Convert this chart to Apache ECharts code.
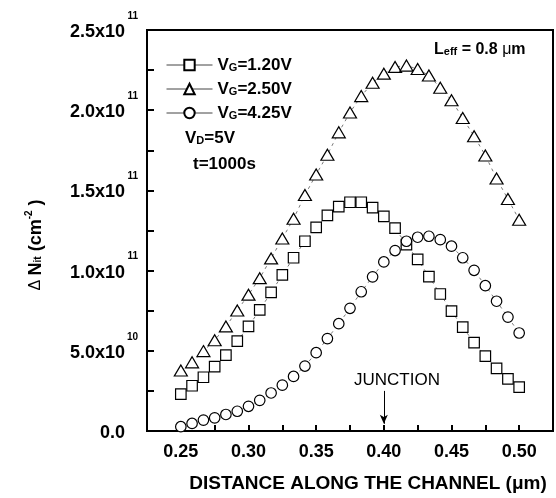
<!DOCTYPE html>
<html>
<head>
<meta charset="utf-8">
<script src="https://cdn.jsdelivr.net/npm/echarts@6/dist/echarts.min.js"></script>
<style>
  html, body { margin: 0; padding: 0; background: #fff; }
  #chart { width: 556px; height: 498px; }
</style>
</head>
<body>
<div id="chart"></div>
<script>
// 沟道位置 (μm)
const distance = [0.2500, 0.2583, 0.2667, 0.2750, 0.2833, 0.2917, 0.3000, 0.3083, 0.3167, 0.3250,
    0.3333, 0.3417, 0.3500, 0.3583, 0.3667, 0.3750, 0.3833, 0.3917, 0.4000, 0.4083,
    0.4167, 0.4250, 0.4333, 0.4417, 0.4500, 0.4583, 0.4667, 0.4750, 0.4833, 0.4917, 0.5000];

// ΔNit，单位 1e10 cm^-2
const vg120 = [2.30, 2.82, 3.35, 4.01, 4.73, 5.60, 6.52, 7.55, 8.64, 9.73,
    10.80, 11.83, 12.70, 13.44, 13.99, 14.26, 14.26, 13.93, 13.38, 12.65,
    11.62, 10.70, 9.63, 8.54, 7.47, 6.48, 5.51, 4.67, 3.91, 3.25, 2.73];
const vg250 = [3.77, 4.28, 4.98, 5.66, 6.52, 7.51, 8.50, 9.53, 10.76, 12.00,
    13.23, 14.71, 15.99, 17.22, 18.62, 19.86, 20.88, 21.71, 22.28, 22.70,
    22.78, 22.57, 22.16, 21.40, 20.62, 19.51, 18.38, 17.18, 15.74, 14.46, 13.17];
const vg425 = [0.27, 0.47, 0.68, 0.82, 1.03, 1.23, 1.54, 1.91, 2.37, 2.86,
    3.40, 4.05, 4.88, 5.76, 6.69, 7.65, 8.68, 9.61, 10.54, 11.25,
    11.83, 12.08, 12.14, 11.93, 11.52, 10.80, 10.02, 9.06, 8.09, 7.10, 6.11];

const seriesNames = ['VG=1.20V', 'VG=2.50V', 'VG=4.25V'];
const junctionX = 0.40;

const FONT = 'Liberation Sans';

const pair = (ys) => ys.map((y, i) => [distance[i], y]);

// y 轴标签: 2.5x10^11 这种写法
const yLabel = (v) => {
    const k = Math.round(v * 10);
    if (k % 50 !== 0) return '';
    if (k === 0) return '{a|0.0}{sp| }';
    if (k < 100) return '{a|' + v.toFixed(1) + 'x10}{sup|10}';
    return '{a|' + (v / 10).toFixed(1) + 'x10}{sup|11}';
};

const buildSeries = (name, ys, symbol, size) => ({
    name: name,
    type: 'line',
    data: pair(ys),
    symbol: symbol,
    symbolSize: size,
    showAllSymbol: true,
    itemStyle: { color: '#fff', borderColor: '#000', borderWidth: 1.2 },
    lineStyle: { color: '#555', width: 0.8, type: [3, 4] },
    emphasis: { disabled: true },
    z: 3
});

const chart = echarts.init(document.getElementById('chart'));

const series = [
    buildSeries(seriesNames[0], vg120, 'rect', 10.5),
    buildSeries(seriesNames[1], vg250, 'triangle', [13, 11]),
    buildSeries(seriesNames[2], vg425, 'circle', 10.5)
];
series[0].markLine = {
    silent: true,
    symbol: ['none', 'arrow'],
    symbolSize: [6, 9],
    label: { show: false },
    lineStyle: { color: '#000', width: 1, type: 'solid' },
    data: [[{ coord: [junctionX, 2.5] }, { coord: [junctionX, 0.45] }]]
};

const option = {
    backgroundColor: '#fff',
    animation: false,
    grid: {
        left: 147, right: 3, top: 30, bottom: 63,
        show: true, borderColor: '#000', borderWidth: 2
    },
    legend: {
        data: seriesNames,
        orient: 'vertical',
        left: 166, top: 56,
        itemWidth: 46, itemHeight: 13, itemGap: 6,
        padding: 0,
        selectedMode: false,
        lineStyle: { type: 'solid', color: '#444', width: 1 },
        formatter: (n) => '{v|V}{g|G}{v|' + n.slice(2) + '}',
        textStyle: {
            color: '#000',
            lineHeight: 18,
            rich: {
                v: { fontFamily: FONT, fontSize: 17, fontWeight: 'bold', color: '#000' },
                g: { fontFamily: FONT, fontSize: 11, fontWeight: 'bold', color: '#000', padding: [5, 0, 0, 0] }
            }
        }
    },
    xAxis: {
        type: 'value',
        min: 0.225, max: 0.525, interval: 0.025,
        name: 'DISTANCE ALONG THE CHANNEL (μm)',
        nameLocation: 'middle',
        nameGap: 43,
        nameTextStyle: {
            fontFamily: FONT, fontSize: 19, fontWeight: 'bold', color: '#000',
            padding: [0, 0, 0, 36]
        },
        axisLine: { lineStyle: { color: '#000', width: 2 } },
        axisTick: { inside: true, length: 6, lineStyle: { color: '#000', width: 2 } },
        axisLabel: {
            margin: 12,
            fontFamily: FONT, fontSize: 18, fontWeight: 'bold', color: '#000',
            formatter: (v) => (Math.round(v * 1000) % 50 === 0 ? v.toFixed(2) : '')
        },
        splitLine: { show: false }
    },
    yAxis: {
        type: 'value',
        min: 0, max: 25, interval: 2.5,
        axisLine: { lineStyle: { color: '#000', width: 2 } },
        axisTick: { inside: true, length: 7, lineStyle: { color: '#000', width: 2 } },
        axisLabel: {
            margin: 9,
            formatter: yLabel,
            rich: {
                a: { fontFamily: FONT, fontSize: 18, fontWeight: 'bold', color: '#000', padding: [4, 0, 0, 0] },
                sup: { fontFamily: FONT, fontSize: 10, fontWeight: 'bold', color: '#000', width: 13, align: 'right', padding: [0, 0, 28, 0] },
                sp: { fontFamily: FONT, fontSize: 10, width: 13 }
            }
        },
        splitLine: { show: false }
    },
    graphic: [
        {
            type: 'text', left: 185, top: 130,
            style: {
                text: '{a|V}{b|D}{a|=5V}',
                rich: {
                    a: { fontFamily: FONT, fontSize: 17, fontWeight: 'bold', fill: '#000' },
                    b: { fontFamily: FONT, fontSize: 11, fontWeight: 'bold', fill: '#000', padding: [5, 0, 0, 0] }
                }
            }
        },
        {
            type: 'text', left: 193, top: 156,
            style: { text: 't=1000s', font: 'bold 17px ' + FONT, fill: '#000' }
        },
        {
            type: 'text', left: 434, top: 42,
            style: {
                text: '{a|L}{b|eff}{a| = 0.8 }{m|μ}{a|m}',
                rich: {
                    a: { fontFamily: FONT, fontSize: 16, fontWeight: 'bold', fill: '#000' },
                    b: { fontFamily: FONT, fontSize: 11, fontWeight: 'bold', fill: '#000', padding: [4, 0, 0, 0] },
                    m: { fontFamily: FONT, fontSize: 16, fill: '#000' }
                }
            }
        },
        {
            type: 'text', x: 397, y: 380,
            style: {
                text: 'JUNCTION', font: '17px ' + FONT, fill: '#000',
                align: 'center', verticalAlign: 'middle'
            }
        },
        {
            type: 'text', x: 36, y: 245, rotation: Math.PI / 2,
            style: {
                text: '{d|Δ }{b|N}{s|it}{b| (cm}{p|-2}{b| )}',
                align: 'center', verticalAlign: 'middle',
                rich: {
                    d: { fontFamily: FONT, fontSize: 16, fill: '#000' },
                    b: { fontFamily: FONT, fontSize: 18, fontWeight: 'bold', fill: '#000' },
                    s: { fontFamily: FONT, fontSize: 10, fontWeight: 'bold', fill: '#000', padding: [5, 0, 0, 0] },
                    p: { fontFamily: FONT, fontSize: 10, fontWeight: 'bold', fill: '#000', padding: [0, 0, 14, 0] }
                }
            }
        }
    ],
    series: series
};

chart.setOption(option);
window.addEventListener('resize', () => chart.resize());
</script>
</body>
</html>
